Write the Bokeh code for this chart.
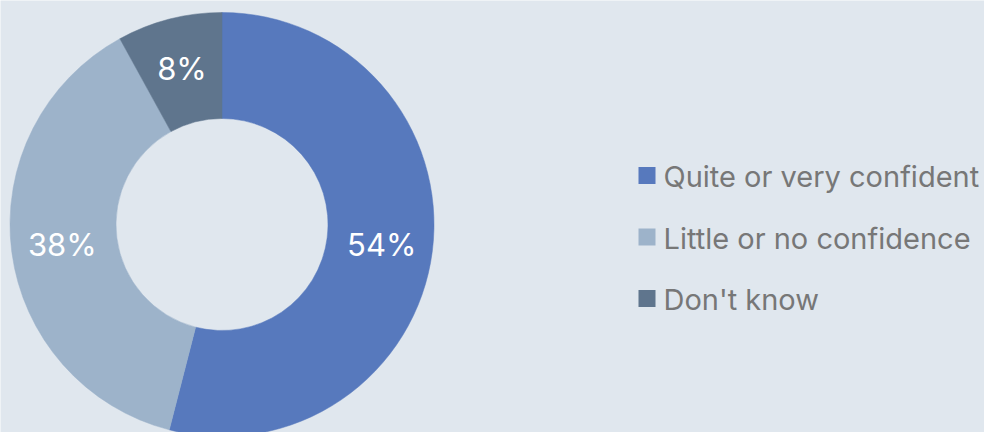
import numpy as np
from bokeh.plotting import figure
from bokeh.models import ColumnDataSource, Range1d
from bokeh.core.properties import value
from bokeh.embed import file_html
from bokeh.resources import INLINE

categories = ["Quite or very confident", "Little or no confidence", "Don't know"]
shares = [54, 38, 8]
labels = ["54%", "38%", "8%"]
colors = ["#5779BD", "#9DB3CA", "#5F758D"]

W, H = 984, 432
BG = "#E0E7EE"
cx, cy = 221.5, H - 224
r_out, r_in = 212, 106

vals = np.array(shares, dtype=float)
frac = vals / vals.sum()
ends = np.cumsum(frac)
starts = ends - frac
# clockwise from 12 o'clock
start_ang = np.pi / 2 - starts * 2 * np.pi
end_ang = np.pi / 2 - ends * 2 * np.pi
mid = np.pi / 2 - (starts + frac / 2) * 2 * np.pi
r_lab = (r_out + r_in) / 2 + 2

src = ColumnDataSource(dict(
    start=start_ang, end=end_ang, color=colors, cat=categories,
    lx=cx + r_lab * np.cos(mid), ly=cy + r_lab * np.sin(mid), lab=labels,
))

p = figure(width=W, height=H, output_backend="svg", toolbar_location=None,
           x_range=Range1d(0, W), y_range=Range1d(0, H), min_border=0,
           background_fill_color=BG, border_fill_color=BG, outline_line_color=None)
p.axis.visible = False
p.grid.visible = False

p.annular_wedge(x=cx, y=cy, inner_radius=r_in, outer_radius=r_out,
                start_angle="start", end_angle="end", direction="clock",
                fill_color="color", line_color="color", line_width=0.5, source=src)
p.text(x="lx", y="ly", text="lab", source=src, text_color="white",
       text_font=value("Inter"), text_font_size="31px",
       text_align="center", text_baseline="middle")

# legend
leg_x, leg_y0, leg_dy = 646.5, H - 175, 61.5
n = len(categories)
lsrc = ColumnDataSource(dict(
    x=[leg_x] * n, y=[leg_y0 - i * leg_dy for i in range(n)],
    tx=[leg_x + 16.5] * n, ty=[leg_y0 - i * leg_dy - 1 for i in range(n)],
    cat=categories, color=colors,
))
p.scatter(x="x", y="y", marker="square", size=17, fill_color="color",
          line_color=None, source=lsrc)
p.text(x="tx", y="ty", text="cat", source=lsrc, text_color="#777777",
       text_font=value("Inter"), text_font_size="29px",
       text_align="left", text_baseline="middle")

open("out.html", "w").write(file_html(p, INLINE))
